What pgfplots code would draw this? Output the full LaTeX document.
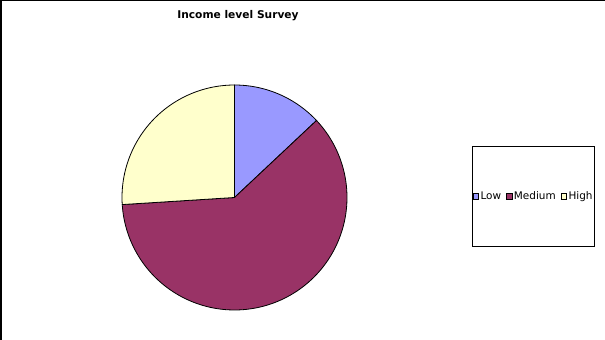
\documentclass[border=0pt]{standalone}
\usepackage{pgfplots}
\pgfplotsset{compat=1.18}
\usepackage{fontspec}
\setmainfont{DejaVu Sans}
\definecolor{cLow}{HTML}{9999FF}
\definecolor{cMed}{HTML}{993366}
\definecolor{cHigh}{HTML}{FFFFCC}
% data (percent)
\newcommand\vLow{13}
\newcommand\vMed{61}
\newcommand\vHigh{26}
\newcommand\cx{234.5}
\newcommand\cy{142.5}
\newcommand\R{112.5}
\pgfmathsetmacro\aA{90}
\pgfmathsetmacro\aB{\aA-\vLow*3.6}
\pgfmathsetmacro\aC{\aB-\vMed*3.6}
\pgfmathsetmacro\aD{\aC-\vHigh*3.6}
\begin{document}
\begin{tikzpicture}
\useasboundingbox (0,0) rectangle (605bp,340bp);
\begin{axis}[
  at={(0,0)}, anchor=origin,
  scale only axis, width=605bp, height=340bp,
  xmin=0, xmax=605, ymin=0, ymax=340,
  hide axis, clip=false,
  legend columns=-1,
  legend image code/.code={\draw[#1,draw=black,line width=0.6bp] (0bp,-2.75bp) rectangle (5.5bp,2.75bp);},
  legend style={at={(axis cs:533.5,143.5)}, anchor=center, draw=black, line width=0.8bp,
    font=\fontsize{10.5}{12}\selectfont, inner xsep=0.5bp, inner ysep=44.5bp,
    nodes={inner xsep=1.6bp, inner ysep=1bp},
    /tikz/every even column/.append style={column sep=3.5bp}},
]
\addplot[fill=cLow, draw=black, line width=0.8bp, domain=\aB:\aA, samples=40, variable=\t]
  ({\cx+\R*cos(\t)},{\cy+\R*sin(\t)}) -- (axis cs:\cx,\cy) -- cycle;
\addlegendentry{Low}
\addplot[fill=cMed, draw=black, line width=0.8bp, domain=\aC:\aB, samples=120, variable=\t]
  ({\cx+\R*cos(\t)},{\cy+\R*sin(\t)}) -- (axis cs:\cx,\cy) -- cycle;
\addlegendentry{Medium}
\addplot[fill=cHigh, draw=black, line width=0.8bp, domain=\aD:\aC, samples=60, variable=\t]
  ({\cx+\R*cos(\t)},{\cy+\R*sin(\t)}) -- (axis cs:\cx,\cy) -- cycle;
\addlegendentry{High}
\node[font=\bfseries\fontsize{10.7}{12}\selectfont] at (axis cs:238,324) {Income level Survey};
\draw[line width=1.5bp] (axis cs:0.75,0) -- (axis cs:0.75,339.25) -- (axis cs:605,339.25);
\end{axis}
\end{tikzpicture}
\end{document}
